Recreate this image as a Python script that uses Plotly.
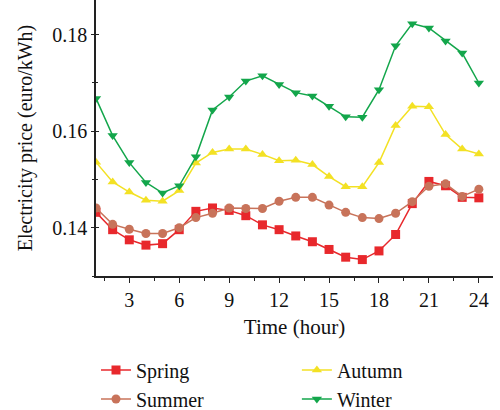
import plotly.graph_objects as go

hours = list(range(1, 25))
spring = [0.1432, 0.1396, 0.1375, 0.1364, 0.1367, 0.1396, 0.1434, 0.1441, 0.1436, 0.1425,
          0.1406, 0.1396, 0.1383, 0.1371, 0.1355, 0.1339, 0.1334, 0.1352, 0.1386, 0.1450,
          0.1496, 0.1487, 0.1463, 0.1462]
summer = [0.1441, 0.1407, 0.1397, 0.1388, 0.1388, 0.1400, 0.1421, 0.1430, 0.1441, 0.1440,
          0.1440, 0.1455, 0.1463, 0.1463, 0.1447, 0.1432, 0.1421, 0.1419, 0.1430, 0.1454,
          0.1486, 0.1491, 0.1465, 0.1480]
autumn = [0.1536, 0.1495, 0.1474, 0.1457, 0.1455, 0.1477, 0.1534, 0.1556, 0.1563, 0.1563,
          0.1552, 0.1539, 0.1540, 0.1531, 0.1506, 0.1485, 0.1485, 0.1535, 0.1612, 0.1652,
          0.1651, 0.1593, 0.1563, 0.1553]
winter = [0.1668, 0.1591, 0.1535, 0.1494, 0.1472, 0.1487, 0.1547, 0.1644, 0.1671, 0.1704,
          0.1715, 0.1697, 0.1680, 0.1673, 0.1652, 0.1630, 0.1629, 0.1686, 0.1777, 0.1823,
          0.1814, 0.1787, 0.1762, 0.1700]

x_ticks = [3, 6, 9, 12, 15, 18, 21, 24]
y_ticks = [0.14, 0.16, 0.18]
y_labels = ["0.14", "0.16", "0.18"]

FONT = "Liberation Serif"

series = [
    ("Spring", spring, "#e8282c", "square", "legend"),
    ("Summer", summer, "#c8735a", "circle", "legend"),
    ("Autumn", autumn, "#f3e124", "triangle-up", "legend2"),
    ("Winter", winter, "#13a64b", "triangle-down", "legend2"),
]

fig = go.Figure()
for name, vals, color, sym, lg in series:
    fig.add_trace(go.Scatter(
        x=hours, y=vals, name=name, mode="lines+markers",
        line=dict(color=color, width=1.5),
        marker=dict(symbol=sym, size=9, color=color),
        legend=lg,
    ))

# invisible trace to drive the inside-tick overlay axis
fig.add_trace(go.Scatter(x=[hours[0]], y=[spring[0]], yaxis="y2", xaxis="x",
                         mode="markers", marker=dict(opacity=0), showlegend=False,
                         hoverinfo="skip"))

yrange = [0.13, 0.1872]
fig.update_layout(
    width=500, height=410,
    margin=dict(l=96, r=7, t=0, b=134, autoexpand=False),
    paper_bgcolor="white", plot_bgcolor="white",
    font=dict(family=FONT, size=20, color="#111"),
    xaxis=dict(
        range=[1, 24.85], tickvals=x_ticks, ticks="outside", ticklen=5, tickwidth=1.2,
        tickcolor="#222", showline=True, linecolor="#222", linewidth=1.5,
        showgrid=False, zeroline=False, automargin=False,
        minor=dict(tickvals=[1.5 + 3 * i for i in range(8)], ticks="outside", ticklen=3,
                   tickcolor="#222", tickwidth=1),
        title=dict(text="Time (hour)", font=dict(size=21), standoff=10),
        tickfont=dict(size=20),
    ),
    yaxis=dict(
        range=yrange, tickvals=y_ticks, ticktext=y_labels, ticks="outside", ticklen=3,
        tickwidth=1.2, tickcolor="#222", showline=True, linecolor="#222", linewidth=1.5,
        showgrid=False, zeroline=False, automargin=False,
        minor=dict(tickvals=[0.13, 0.15, 0.17], ticks="outside", ticklen=2,
                   tickcolor="#222", tickwidth=1),
        title=dict(text="Electricity price (euro/kWh)", font=dict(size=20), standoff=14),
        tickfont=dict(size=20),
    ),
    yaxis2=dict(
        range=yrange, overlaying="y", side="left", tickvals=y_ticks, ticks="inside",
        ticklen=3, tickwidth=1.2, tickcolor="#222", showticklabels=False,
        showgrid=False, zeroline=False, showline=False, automargin=False,
        minor=dict(tickvals=[0.13, 0.15, 0.17], ticks="inside", ticklen=2,
                   tickcolor="#222", tickwidth=1),
    ),
    legend=dict(x=0.0, y=-0.27, xanchor="left", yanchor="top", orientation="v",
                font=dict(size=20), bgcolor="rgba(0,0,0,0)", tracegroupgap=0,
                itemwidth=30),
    legend2=dict(x=0.506, y=-0.27, xanchor="left", yanchor="top", orientation="v",
                 font=dict(size=20), bgcolor="rgba(0,0,0,0)", tracegroupgap=0,
                 itemwidth=30),
)

fig.write_html("out.html", config={"displayModeBar": False},
               post_script="document.body.style.margin='0';document.body.style.padding='0';")
